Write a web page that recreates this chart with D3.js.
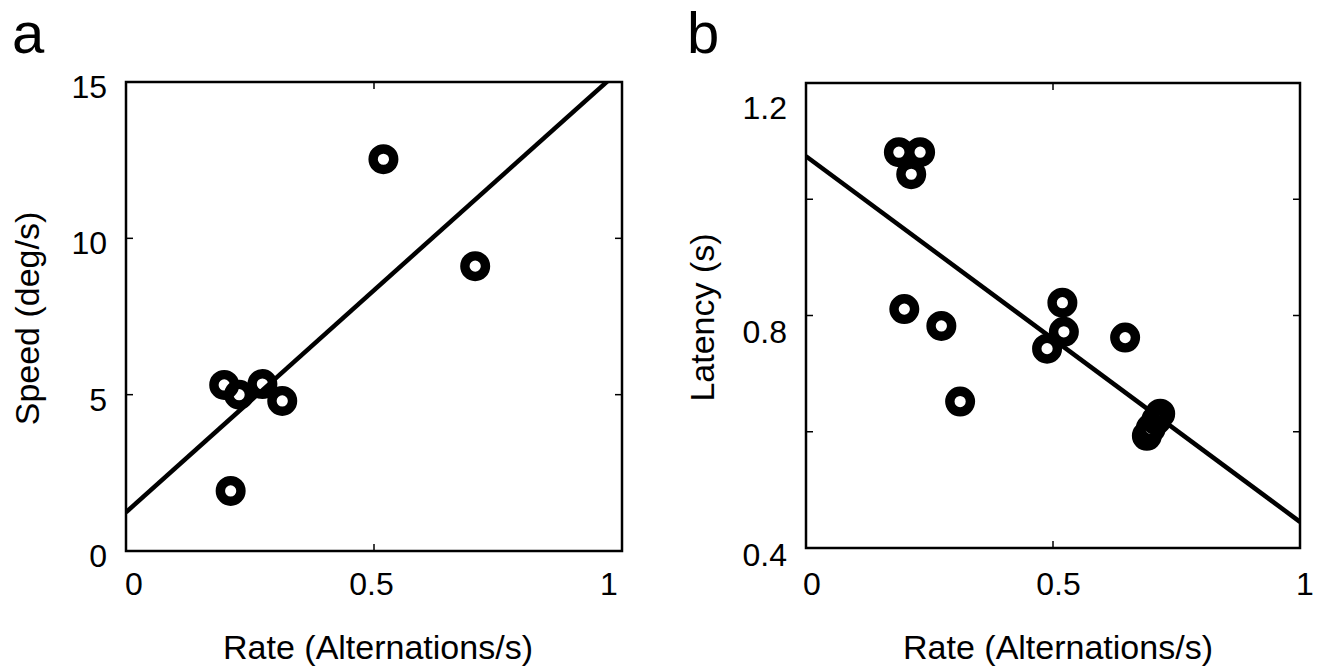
<!DOCTYPE html>
<html>
<head>
<meta charset="utf-8">
<script src="https://cdn.jsdelivr.net/npm/d3@7"></script>
<style>
  html, body { margin: 0; padding: 0; background: #fff; }
  svg { display: block; }
  text { font-family: "Liberation Sans", Arial, Helvetica, sans-serif; fill: #000; }
</style>
</head>
<body>
<script>
// ---------- data ----------
const rateA  = [0.198, 0.228, 0.275, 0.315, 0.211, 0.519, 0.704];
const speedA = [5.31, 5.00, 5.34, 4.80, 1.92, 12.53, 9.11];
const fitA   = [1.24, 14.2];            // intercept, slope

const rateB    = [0.188, 0.231, 0.213, 0.199, 0.274, 0.312, 0.488, 0.519, 0.522, 0.646, 0.690, 0.698, 0.709, 0.717];
const latencyB = [1.081, 1.081, 1.043, 0.811, 0.782, 0.652, 0.743, 0.822, 0.772, 0.762, 0.593, 0.606, 0.620, 0.631];
const fitB     = [1.074, -0.629];       // intercept, slope

const xTicks       = [0, 0.5, 1];
const xTickLabels  = ["0", "0.5", "1"];
const yTicksA      = [0, 5, 10, 15];
const yTickLabelsA = ["0", "5", "10", "15"];
const yTicksB      = [0.4, 0.6, 0.8, 1.0, 1.2];
const yLabelValsB  = [0.4, 0.8, 1.2];
const yTickLabelsB = ["0.4", "0.8", "1.2"];

const panelLetters = ["a", "b"];
const xTitle  = "Rate (Alternations/s)";
const yTitles = ["Speed (deg/s)", "Latency (s)"];

// ---------- layout ----------
const W = 1323, H = 670;
const svg = d3.select("body").append("svg").attr("width", W).attr("height", H);
svg.append("rect").attr("width", W).attr("height", H).attr("fill", "#fff");

const panels = [
  {
    letter: panelLetters[0], yTitle: yTitles[0],
    xs: rateA, ys: speedA, fit: fitA,
    left: 126, right: 622, top: 82, bottom: 551,
    yDomain: [0, 15], yTicks: yTicksA, yLabelVals: yTicksA, yLabels: yTickLabelsA,
    xLabelRange: [134, 609], yLabelRange: [556, 87],
    letterX: 12, yTitleX: 39, titleX: 378
  },
  {
    letter: panelLetters[1], yTitle: yTitles[1],
    xs: rateB, ys: latencyB, fit: fitB,
    left: 806, right: 1300, top: 83, bottom: 548,
    yDomain: [0.4, 1.2], yTicks: yTicksB, yLabelVals: yLabelValsB, yLabels: yTickLabelsB,
    xLabelRange: [812, 1305], yLabelRange: [555, 108],
    letterX: 687, yTitleX: 714, titleX: 1058
  }
];

panels.forEach((p, i) => {
  const x = d3.scaleLinear().domain([0, 1]).range([p.left, p.right]);
  const y = d3.scaleLinear().domain(p.yDomain).range([p.bottom, p.top]);
  const xl = d3.scaleLinear().domain([0, 1]).range(p.xLabelRange);
  const yl = d3.scaleLinear().domain(p.yDomain).range(p.yLabelRange);
  const g = svg.append("g");

  // clip
  const clipId = "clip" + i;
  svg.append("defs").append("clipPath").attr("id", clipId)
    .append("rect").attr("x", p.left).attr("y", p.top)
    .attr("width", p.right - p.left).attr("height", p.bottom - p.top);

  // box
  g.append("rect").attr("x", p.left).attr("y", p.top)
    .attr("width", p.right - p.left).attr("height", p.bottom - p.top)
    .attr("fill", "none").attr("stroke", "#000").attr("stroke-width", 2.5);

  // inner tick marks
  const tl = 7;
  const innerY = p.yTicks.filter(v => v > p.yDomain[0] && v < p.yDomain[1]);
  innerY.forEach(v => {
    g.append("line").attr("x1", p.left).attr("x2", p.left + tl).attr("y1", y(v)).attr("y2", y(v))
      .attr("stroke", "#000").attr("stroke-width", 1.5);
    g.append("line").attr("x1", p.right).attr("x2", p.right - tl).attr("y1", y(v)).attr("y2", y(v))
      .attr("stroke", "#000").attr("stroke-width", 1.5);
  });
  xTicks.filter(v => v > 0 && v < 1).forEach(v => {
    g.append("line").attr("x1", x(v)).attr("x2", x(v)).attr("y1", p.bottom).attr("y2", p.bottom - tl)
      .attr("stroke", "#000").attr("stroke-width", 1.5);
    g.append("line").attr("x1", x(v)).attr("x2", x(v)).attr("y1", p.top).attr("y2", p.top + tl)
      .attr("stroke", "#000").attr("stroke-width", 1.5);
  });

  // tick labels
  g.selectAll(".xl").data(xTicks).enter().append("text")
    .attr("x", d => xl(d)).attr("y", 584)
    .attr("text-anchor", "middle").attr("dominant-baseline", "central")
    .attr("font-size", 32).text((d, k) => xTickLabels[k]);
  g.selectAll(".yl").data(p.yLabelVals).enter().append("text")
    .attr("x", p.left - 19).attr("y", d => yl(d))
    .attr("text-anchor", "end").attr("dominant-baseline", "central")
    .attr("font-size", 32).text((d, k) => p.yLabels[k]);

  // titles
  g.append("text").attr("x", p.titleX).attr("y", 659)
    .attr("text-anchor", "middle").attr("font-size", 34).text(xTitle);
  g.append("text").attr("transform", `translate(${p.yTitleX},${(p.top + p.bottom) / 2 + 2}) rotate(-90)`)
    .attr("text-anchor", "middle").attr("font-size", 34).text(p.yTitle);

  // panel letter
  g.append("text").attr("x", p.letterX).attr("y", 53).attr("font-size", 58).text(p.letter);

  // fit line
  const line = d3.line().x(d => x(d)).y(d => y(p.fit[0] + p.fit[1] * d));
  g.append("path").datum([0, 1]).attr("d", line)
    .attr("clip-path", `url(#${clipId})`)
    .attr("fill", "none").attr("stroke", "#000").attr("stroke-width", 4.5);

  // points
  g.selectAll(".pt").data(p.xs.map((v, k) => [v, p.ys[k]])).enter().append("circle")
    .attr("cx", d => x(d[0])).attr("cy", d => y(d[1])).attr("r", 10.3)
    .attr("fill", "none").attr("stroke", "#000").attr("stroke-width", 9.4);
});
</script>
</body>
</html>
